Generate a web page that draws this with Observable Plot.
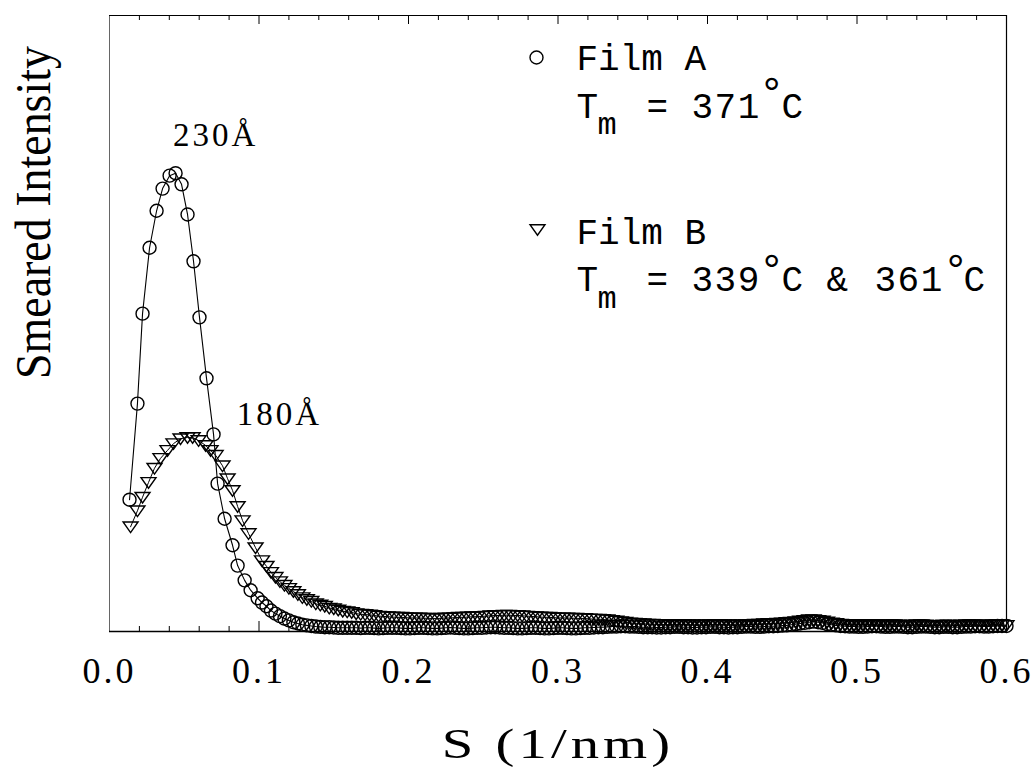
<!DOCTYPE html>
<html><head><meta charset="utf-8">
<script src="https://cdn.jsdelivr.net/npm/d3@7"></script>
<script src="https://cdn.jsdelivr.net/npm/@observablehq/plot@0.6"></script>
<style>
html,body{margin:0;padding:0;background:#fff;}
#chart{position:absolute;left:0;top:0;}
</style></head><body><div id="chart"></div>
<script>
// ---- data (S in 1/nm, smeared intensity in arbitrary units) ----
const seriesNames = ["Film A", "Film B"];
const sHeadA = [0.0134,0.0187,0.0221,0.0268,0.0315,0.0355,0.0402,0.0442,0.0482,0.0522,0.0562,0.0602,0.0649,0.0696,0.0723,0.0770,0.0823,0.0857,0.0904,0.0944,0.0991];
const iHeadA = [21.4,37.0,51.6,62.3,68.3,71.9,74.0,74.4,72.6,67.7,60.1,51.0,41.1,32.0,24.0,18.3,14.0,10.7,8.3,6.7,5.4];
const sHeadB = [0.0141,0.0187,0.0221,0.0261,0.0301,0.0341,0.0388,0.0428,0.0475,0.0522,0.0556,0.0596,0.0643,0.0676,0.0710,0.0756,0.0790,0.0823,0.0857,0.0890,0.0930,0.0977];
const iHeadB = [17.0,19.6,21.8,24.2,26.5,28.1,29.4,30.5,31.3,31.5,31.5,31.0,30.2,29.4,28.6,26.9,24.8,22.9,20.3,18.0,15.9,13.6];
const sTail = [
0.102,0.105,0.108,0.111,0.114,0.117,0.120,0.123,0.126,0.129,
0.132,0.135,0.138,0.141,0.144,0.147,0.150,0.153,0.156,0.159,
0.162,0.165,0.168,0.171,0.174,0.177,0.180,0.183,0.186,0.189,
0.192,0.195,0.198,0.201,0.204,0.207,0.210,0.213,0.216,0.219,
0.222,0.225,0.228,0.231,0.234,0.237,0.240,0.243,0.246,0.249,
0.252,0.255,0.258,0.261,0.264,0.267,0.270,0.273,0.276,0.279,
0.282,0.285,0.288,0.291,0.294,0.297,0.300,0.303,0.306,0.309,
0.312,0.315,0.318,0.321,0.324,0.327,0.330,0.333,0.336,0.339,
0.342,0.345,0.348,0.351,0.354,0.357,0.360,0.363,0.366,0.369,
0.372,0.375,0.378,0.381,0.384,0.387,0.390,0.393,0.396,0.399,
0.402,0.405,0.408,0.411,0.414,0.417,0.420,0.423,0.426,0.429,
0.432,0.435,0.438,0.441,0.444,0.447,0.450,0.453,0.456,0.459,
0.462,0.465,0.468,0.471,0.474,0.477,0.480,0.483,0.486,0.489,
0.492,0.495,0.498,0.501,0.504,0.507,0.510,0.513,0.516,0.519,
0.522,0.525,0.528,0.531,0.534,0.537,0.540,0.543,0.546,0.549,
0.552,0.555,0.558,0.561,0.564,0.567,0.570,0.573,0.576,0.579,
0.582,0.585,0.588,0.591,0.594,0.597,0.600];
const iTailA = [
4.7,4.1,3.4,2.9,2.5,2.1,1.8,1.5,1.3,1.1,
1.0,0.9,0.8,0.75,0.7,0.7,0.65,0.6,0.6,0.6,
0.6,0.6,0.55,0.6,0.6,0.55,0.5,0.55,0.6,0.6,
0.6,0.55,0.5,0.5,0.55,0.6,0.6,0.55,0.5,0.5,
0.55,0.6,0.65,0.6,0.55,0.5,0.5,0.55,0.6,0.6,
0.65,0.7,0.7,0.65,0.6,0.6,0.55,0.5,0.5,0.55,
0.6,0.6,0.55,0.5,0.5,0.55,0.6,0.6,0.55,0.5,
0.5,0.55,0.6,0.6,0.65,0.7,0.7,0.75,0.8,0.8,
0.85,0.85,0.8,0.8,0.75,0.7,0.7,0.7,0.65,0.65,
0.7,0.7,0.75,0.75,0.7,0.7,0.65,0.65,0.7,0.7,
0.75,0.75,0.7,0.7,0.65,0.7,0.7,0.75,0.8,0.8,
0.75,0.75,0.8,0.85,0.85,0.9,0.95,1.0,1.1,1.2,
1.3,1.4,1.5,1.6,1.5,1.4,1.2,1.1,1.0,0.9,
0.85,0.8,0.8,0.75,0.75,0.8,0.85,0.85,0.8,0.75,
0.75,0.8,0.8,0.75,0.7,0.7,0.75,0.8,0.8,0.75,
0.7,0.7,0.75,0.75,0.7,0.7,0.75,0.8,0.8,0.85,
0.85,0.8,0.8,0.85,0.9,0.9,0.9];
const iTailB = [
11.5,10.6,9.6,8.8,8.1,7.5,7.0,6.5,6.0,5.5,
5.2,4.9,4.5,4.3,4.1,3.8,3.7,3.5,3.3,3.2,
3.1,2.9,2.8,2.75,2.7,2.6,2.5,2.45,2.4,2.35,
2.3,2.3,2.25,2.2,2.2,2.2,2.15,2.15,2.1,2.1,
2.15,2.2,2.2,2.25,2.3,2.3,2.35,2.4,2.4,2.45,
2.5,2.55,2.6,2.6,2.65,2.65,2.6,2.6,2.55,2.5,
2.45,2.4,2.35,2.3,2.3,2.25,2.2,2.2,2.2,2.15,
2.15,2.1,2.1,2.05,2.0,2.0,1.95,1.9,1.8,1.7,
1.6,1.5,1.4,1.35,1.3,1.25,1.2,1.2,1.15,1.15,
1.1,1.1,1.1,1.15,1.15,1.1,1.1,1.05,1.05,1.1,
1.1,1.15,1.15,1.1,1.1,1.05,1.05,1.1,1.1,1.15,
1.2,1.2,1.25,1.3,1.3,1.35,1.4,1.45,1.5,1.6,
1.7,1.8,1.9,1.9,1.8,1.7,1.55,1.4,1.3,1.2,
1.15,1.1,1.1,1.15,1.15,1.1,1.1,1.05,1.05,1.1,
1.1,1.1,1.05,1.0,1.0,1.05,1.1,1.1,1.05,1.0,
1.0,1.0,1.05,1.05,1.0,1.0,1.05,1.1,1.1,1.05,
1.0,1.0,1.05,1.1,1.1,1.05,1.0];
const xTicks = [0.0,0.1,0.2,0.3,0.4,0.5,0.6];
const xMinor = [0.02,0.04,0.06,0.08,0.12,0.14,0.16,0.18,0.22,0.24,0.26,0.28,0.32,0.34,0.36,0.38,0.42,0.44,0.46,0.48,0.52,0.54,0.56,0.58];
const peakLabels = ["230Å", "180Å"];

// ---- build tables ----
const filmA = sHeadA.map((s,i)=>({s, v:iHeadA[i]})).concat(sTail.map((s,i)=>({s, v:iTailA[i]})));
const filmB = sHeadB.map((s,i)=>({s, v:iHeadB[i]})).concat(sTail.map((s,i)=>({s, v:iTailB[i]})));
const peakA = d3.greatest(filmA, d=>d.v);
const peakB = d3.greatest(filmB, d=>d.v);
const xMajorInner = xTicks.slice(1, -1);

const triDown = {draw(ctx, size){ const r = Math.sqrt(size/Math.PI);
  ctx.moveTo(-1.1*r, -0.7*r); ctx.lineTo(1.1*r, -0.7*r); ctx.lineTo(0, 0.85*r); ctx.closePath(); }};

const W = 1035, H = 771, ML = 109, MR = 29, MT = 15, MB = 140;
const serif = "Liberation Serif, Times New Roman, serif";
const mono = "Liberation Mono, Courier New, monospace";
const pxPerUnit = (H - MT - MB) / 100;

function lt(str, x, y, size){
  return Plot.text([str], {frameAnchor:"top-left", dx: x - ML, dy: y - MT, text: d=>d,
    textAnchor:"start", lineAnchor:"bottom", fontSize:size, fontFamily:mono, fill:"black"});
}

const svg = Plot.plot({
  width: W, height: H, marginLeft: ML, marginRight: MR, marginTop: MT, marginBottom: MB,
  x: {domain: [0, 0.6]},
  y: {domain: [0, 100], axis: null},
  style: {background: "white", color: "black"},
  marks: [
    Plot.ruleX([0], {stroke: "#666", strokeWidth: 1}),
    Plot.ruleX([0.6], {stroke: "black", strokeWidth: 1.2}),
    Plot.ruleY([100], {stroke: "black", strokeWidth: 1.2}),
    Plot.ruleY([0], {stroke: "black", strokeWidth: 1.3}),
    Plot.ruleX(xMinor, {x: d=>d, y1: 0, y2: 5/pxPerUnit, stroke: "black", strokeWidth: 1}),
    Plot.ruleX(xMajorInner, {x: d=>d, y1: 0, y2: 10/pxPerUnit, stroke: "black", strokeWidth: 1}),
    Plot.ruleX(xMinor, {x: d=>d, y1: 100, y2: 100 - 5/pxPerUnit, stroke: "black", strokeWidth: 1}),
    Plot.ruleX(xMajorInner, {x: d=>d, y1: 100, y2: 100 - 9/pxPerUnit, stroke: "black", strokeWidth: 1}),
    Plot.axisX(xTicks, {tickSize: 0, tickPadding: 26, tickFormat: d=>d.toFixed(1), fontSize: 36, fontFamily: serif, label: null}),
    Plot.line(filmB, {x: "s", y: "v", stroke: "black", strokeWidth: 1}),
    Plot.line(filmA, {x: "s", y: "v", stroke: "black", strokeWidth: 1.1}),
    Plot.dot(filmB, {x: "s", y: "v", symbol: triDown, r: 6.8, stroke: "black", strokeWidth: 1.4, fill: "none"}),
    Plot.dot(filmA, {x: "s", y: "v", r: 6.5, stroke: "black", strokeWidth: 1.4, fill: "none"}),
    Plot.text([peakA], {x: "s", y: "v", text: () => peakLabels[0], dx: 40, dy: -27, lineAnchor: "bottom", fontSize: 33, fontFamily: serif, fill: "black"}),
    Plot.text([peakB], {x: "s", y: "v", text: () => peakLabels[1], dx: 92, dy: -12, lineAnchor: "bottom", fontSize: 33, fontFamily: serif, fill: "black"}),
    // legend
    Plot.dot([seriesNames[0]], {frameAnchor: "top-left", dx: 536 - ML, dy: 57 - MT, r: 6.5, stroke: "black", strokeWidth: 1.4, fill: "none"}),
    Plot.dot([seriesNames[1]], {frameAnchor: "top-left", dx: 537 - ML, dy: 229 - MT, symbol: triDown, r: 6.8, stroke: "black", strokeWidth: 1.4, fill: "none"}),
    lt(seriesNames[0], 576, 69, 36),
    lt("T", 576, 117, 36), lt("m", 597, 133, 32), lt("=", 646, 117, 36), lt("371", 691, 117, 36),
    lt("°", 758, 106, 44), lt("C", 781, 117, 36),
    lt(seriesNames[1], 576, 243, 36),
    lt("T", 576, 290, 36), lt("m", 597, 307, 32), lt("=", 646, 290, 36), lt("339", 691, 290, 36),
    lt("°", 758, 283, 44), lt("C", 781, 290, 36), lt("&", 826, 290, 36), lt("361", 874, 290, 36),
    lt("°", 942, 283, 44), lt("C", 963, 290, 36),
    // axis titles
    Plot.text(["S (1/nm)"], {frameAnchor: "bottom", dy: 126, text: d=>d, textAnchor: "middle", lineAnchor: "bottom", fontSize: 42, fontFamily: serif, fill: "black"}),
    Plot.text(["Smeared Intensity"], {frameAnchor: "left", rotate: -90, dx: -60, dy: -111, text: d=>d, textAnchor: "middle", lineAnchor: "bottom", fontSize: 50, fontFamily: serif, fill: "black"})
  ]
});

const sel = d3.select(svg);
const byText = f => sel.selectAll("text").filter(function(){ return f(this.textContent); });
byText(t => /^0\.\d$/.test(t)).attr("letter-spacing", "3px");
byText(t => peakLabels.includes(t)).attr("letter-spacing", "3px");
byText(t => /^\d{3}$/.test(t)).attr("letter-spacing", "1.5px");
byText(t => t === "S (1/nm)").each(function(){
  const tr = this.getAttribute("transform") || "";
  this.setAttribute("transform", tr + " scale(1.35,1)");
  this.setAttribute("letter-spacing", "3px");
});
byText(t => t === "Smeared Intensity").attr("textLength", 333).attr("lengthAdjust", "spacingAndGlyphs");
document.getElementById("chart").appendChild(svg);
</script></body></html>
